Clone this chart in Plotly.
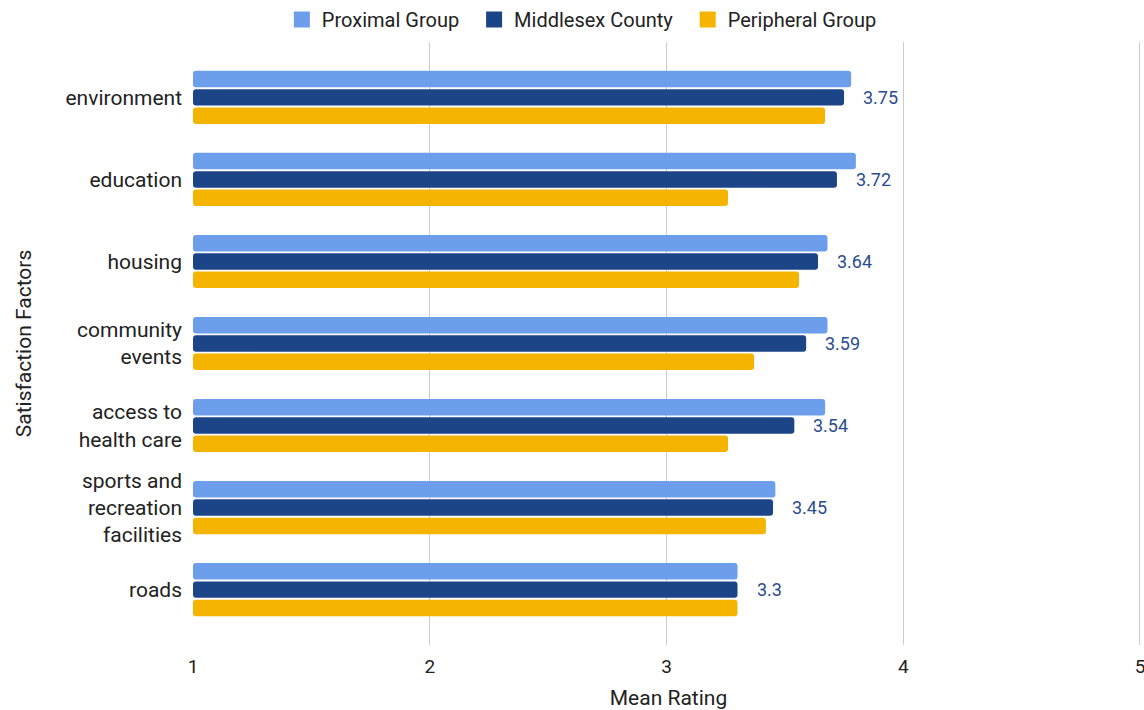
import plotly.graph_objects as go

# Satisfaction factors (top to bottom) and mean ratings per group
factors = [
    "environment",
    "education",
    "housing",
    "community<br>events",
    "access to<br>health care",
    "sports and<br>recreation<br>facilities",
    "roads",
]
proximal = [3.78, 3.80, 3.68, 3.68, 3.67, 3.46, 3.30]
middlesex = [3.75, 3.72, 3.64, 3.59, 3.54, 3.45, 3.3]
peripheral = [3.67, 3.26, 3.56, 3.37, 3.26, 3.42, 3.30]
middlesex_labels = ["3.75", "3.72", "3.64", "3.59", "3.54", "3.45", "3.3"]
x_ticks = [1, 2, 3, 4, 5]

series = [
    ("Proximal Group", proximal, "#6d9eeb"),
    ("Middlesex County", middlesex, "#1c4587"),
    ("Peripheral Group", peripheral, "#f4b400"),
]

FONT = "Roboto, Arial, sans-serif"
TEXT = "#222222"
PAD = "\u00a0\u00a0"

fig = go.Figure()
for name, vals, color in series:
    fig.add_trace(go.Bar(
        name=name,
        y=factors,
        x=[v - 1 for v in vals],
        base=1,
        orientation="h",
        marker=dict(color=color, line=dict(width=0)),
        hoverinfo="skip",
        showlegend=False,
    ))

# Square swatches for the legend
for name, vals, color in series:
    fig.add_trace(go.Scatter(
        name=name + PAD,
        x=[None], y=[None],
        mode="markers",
        marker=dict(symbol="square", size=17, color=color),
        showlegend=True,
        hoverinfo="skip",
    ))

# Value labels for the county series
for f, v, lab in zip(factors, middlesex, middlesex_labels):
    fig.add_annotation(
        x=v, y=f, text=lab, showarrow=False,
        xanchor="left", xshift=17, yshift=0,
        font=dict(family=FONT, size=18, color="#2a4d8f"),
    )

fig.update_layout(
    width=1144,
    height=710,
    margin=dict(l=193, r=0, t=42, b=65),
    paper_bgcolor="white",
    plot_bgcolor="white",
    barmode="group",
    bargap=0.33,
    bargroupgap=0.1,
    barcornerradius=3,
    font=dict(family=FONT, size=20, color=TEXT),
    legend=dict(
        orientation="h",
        x=0.513, xref="container", xanchor="center",
        y=1.0, yref="container", yanchor="top",
        font=dict(family=FONT, size=20, color=TEXT),
        itemwidth=30,
        traceorder="normal",
    ),
    xaxis=dict(
        range=[1, 5.017],
        tickvals=x_ticks,
        showgrid=True,
        gridcolor="#cccccc",
        gridwidth=1,
        zeroline=False,
        showline=False,
        ticks="",
        ticklabeloverflow="allow",
        tickfont=dict(family=FONT, size=19, color=TEXT),
        ticklabelstandoff=8,
        title=dict(text="Mean Rating", font=dict(family=FONT, size=21, color=TEXT), standoff=14),
        fixedrange=True,
    ),
    yaxis=dict(
        autorange=False,
        range=[6.675, -0.675],
        categoryorder="array",
        categoryarray=factors,
        showgrid=False,
        ticks="",
        ticklabelstandoff=10,
        tickfont=dict(family=FONT, size=21, color=TEXT),
        title=dict(text="Satisfaction Factors", font=dict(family=FONT, size=21, color=TEXT), standoff=28),
        fixedrange=True,
    ),
)

fig.write_html("out.html")
